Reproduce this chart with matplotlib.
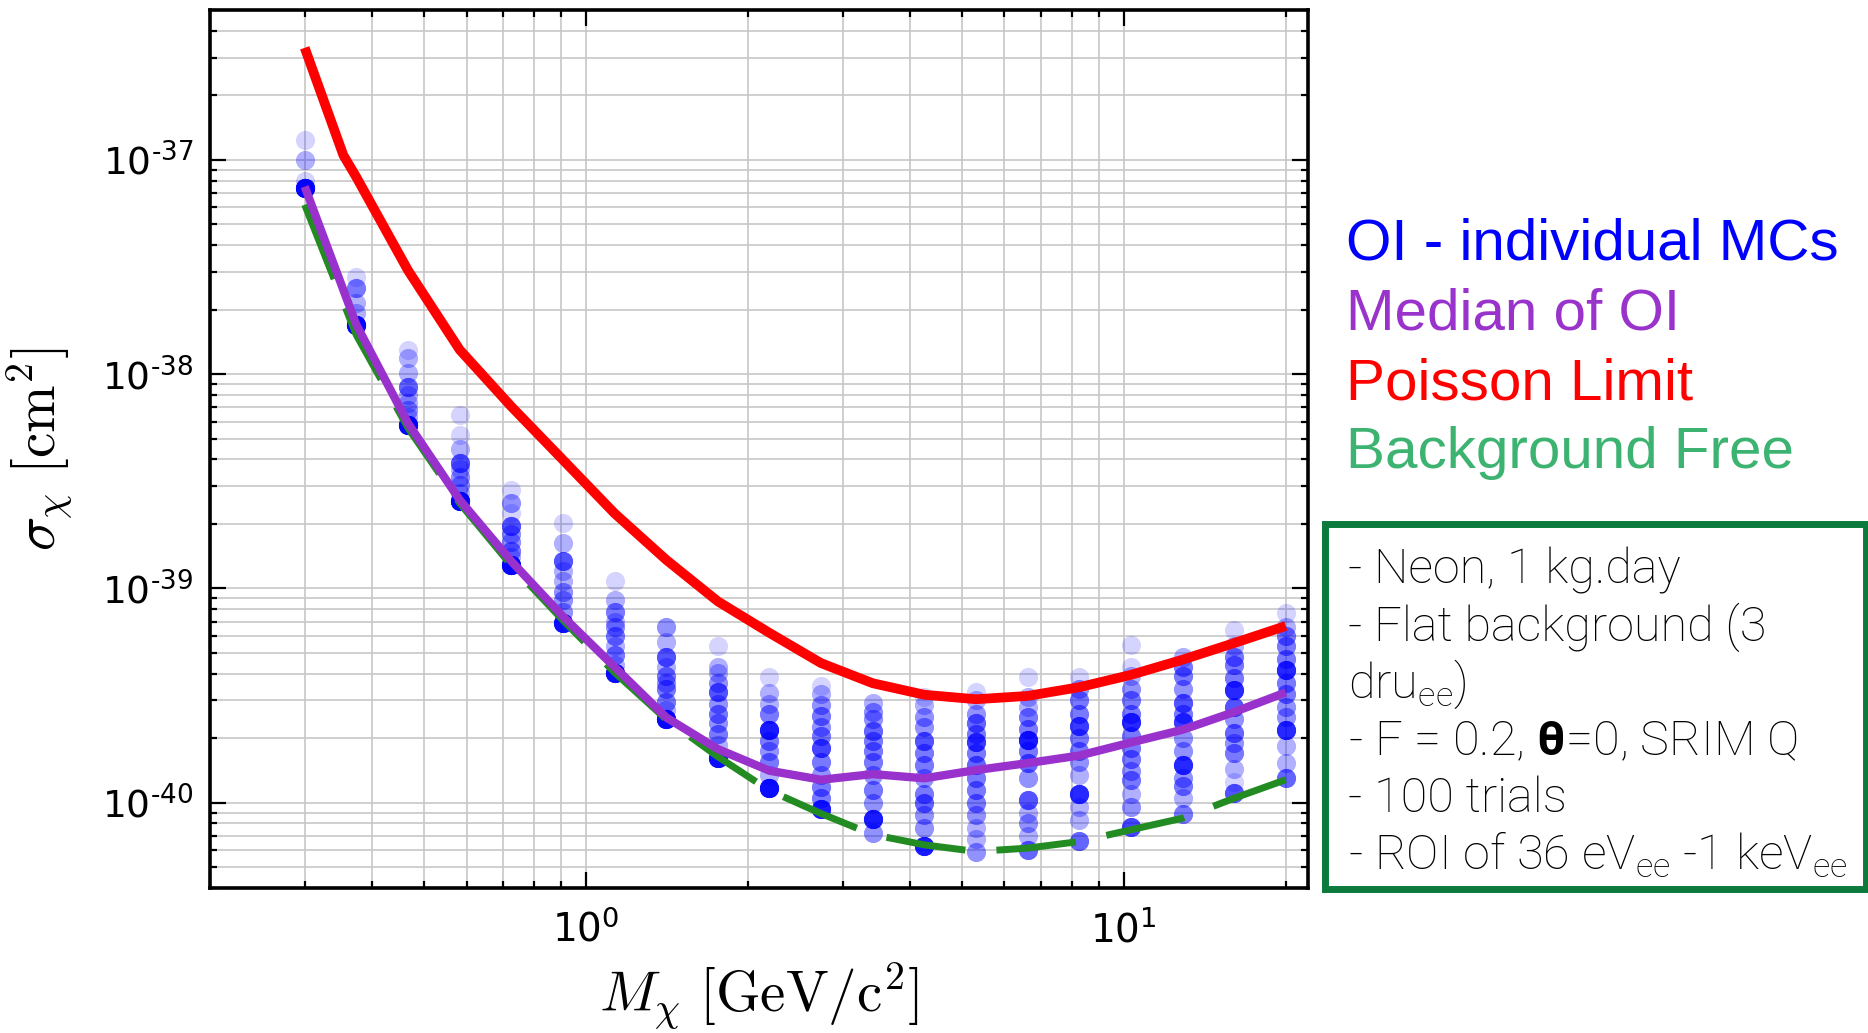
import matplotlib
matplotlib.use('Agg')
import matplotlib.pyplot as plt
import numpy as np
from matplotlib.patches import Rectangle

plt.rcParams['mathtext.fontset'] = 'cm'
plt.rcParams['axes.unicode_minus'] = False
plt.rcParams['axes.axisbelow'] = True
# custom math fonts only used inside the info box
plt.rcParams['mathtext.rm'] = 'Roboto:light'
plt.rcParams['mathtext.bf'] = 'Roboto:bold'

# WIMP masses [GeV/c^2]
mass = [0.3, 0.3742, 0.4668, 0.5823, 0.7264, 0.9061, 1.1303, 1.4099, 1.7587, 2.1938,
        2.7366, 3.4136, 4.2581, 5.3116, 6.6257, 8.2649, 10.310, 12.860, 16.042, 20.0]

# poisson limit has one extra point where its slope changes
poisson_mass = [0.3, 0.354, 0.3742, 0.4668, 0.5823, 0.7264, 0.9061, 1.1303, 1.4099, 1.7587,
                2.1938, 2.7366, 3.4136, 4.2581, 5.3116, 6.6257, 8.2649, 10.310, 12.860,
                16.042, 20.0]
poisson_limit = [3.33e-37, 1.05e-37, 8.3e-38, 3.05e-38, 1.30e-38, 7.06e-39, 3.98e-39, 2.24e-39,
                 1.36e-39, 8.7e-40, 6.2e-40, 4.48e-40, 3.61e-40, 3.19e-40, 3.04e-40, 3.15e-40,
                 3.46e-40, 3.95e-40, 4.65e-40, 5.56e-40, 6.68e-40]

median_oi = [7.5e-38, 1.7e-38, 5.9e-39, 2.59e-39, 1.34e-39, 7.4e-40, 4.3e-40, 2.5e-40,
             1.78e-40, 1.41e-40, 1.28e-40, 1.36e-40, 1.30e-40, 1.42e-40, 1.53e-40, 1.66e-40,
             1.91e-40, 2.19e-40, 2.65e-40, 3.27e-40]

bkg_free = [6.17e-38, 1.52e-38, 5.6e-39, 2.5e-39, 1.28e-39, 7.1e-40, 4.05e-40, 2.45e-40,
            1.64e-40, 1.14e-40, 8.9e-41, 7.1e-41, 6.36e-41, 5.92e-41, 6.14e-41, 6.59e-41,
            7.48e-41, 8.47e-41, 1.05e-40, 1.28e-40]

# individual OI trials per mass: distinct limit values and how many trials landed there
oi_values = [
    [1.24e-37, 1.0e-37, 8.0e-38, 7.4e-38],
    [2.85e-38, 2.52e-38, 2.14e-38, 1.93e-38, 1.70e-38],
    [1.30e-38, 1.19e-38, 1.01e-38, 8.75e-39, 8.0e-39, 7.3e-39, 6.8e-39, 6.3e-39, 5.8e-39],
    [6.45e-39, 5.2e-39, 4.45e-39, 3.85e-39, 3.6e-39, 3.3e-39, 3.05e-39, 2.8e-39, 2.55e-39],
    [2.88e-39, 2.5e-39, 2.25e-39, 1.95e-39, 1.8e-39, 1.65e-39, 1.5e-39, 1.4e-39, 1.29e-39],
    [2.02e-39, 1.63e-39, 1.34e-39, 1.2e-39, 1.08e-39, 9.6e-40, 8.8e-40, 7.8e-40, 6.9e-40],
    [1.08e-39, 8.85e-40, 7.8e-40, 7.0e-40, 6.6e-40, 6.0e-40, 5.4e-40, 4.9e-40, 4.4e-40, 4.05e-40],
    [6.6e-40, 5.6e-40, 4.8e-40, 4.3e-40, 3.9e-40, 3.6e-40, 3.4e-40, 2.95e-40, 2.7e-40, 2.45e-40],
    [5.36e-40, 4.32e-40, 4.03e-40, 3.6e-40, 3.3e-40, 2.9e-40, 2.6e-40, 2.35e-40, 2.1e-40,
     1.85e-40, 1.62e-40],
    [3.88e-40, 3.24e-40, 2.9e-40, 2.6e-40, 2.19e-40, 1.95e-40, 1.75e-40, 1.55e-40, 1.35e-40,
     1.17e-40],
    [3.5e-40, 3.2e-40, 2.85e-40, 2.55e-40, 2.25e-40, 2.05e-40, 1.8e-40, 1.55e-40, 1.35e-40,
     1.18e-40, 1.05e-40, 9.3e-41],
    [2.92e-40, 2.65e-40, 2.45e-40, 2.15e-40, 1.95e-40, 1.75e-40, 1.55e-40, 1.35e-40, 1.15e-40,
     1.0e-40, 8.4e-41, 7.2e-41],
    [3.1e-40, 2.85e-40, 2.5e-40, 2.25e-40, 1.95e-40, 1.7e-40, 1.5e-40, 1.3e-40, 1.1e-40,
     1.0e-40, 8.8e-41, 7.6e-41, 6.3e-41],
    [3.3e-40, 3.0e-40, 2.6e-40, 2.35e-40, 2.1e-40, 1.93e-40, 1.7e-40, 1.5e-40, 1.3e-40,
     1.15e-40, 1.0e-40, 8.8e-41, 7.6e-41, 6.8e-41, 5.9e-41],
    [3.88e-40, 3.1e-40, 2.8e-40, 2.5e-40, 2.2e-40, 1.97e-40, 1.75e-40, 1.53e-40, 1.3e-40,
     1.03e-40, 9.0e-41, 8.0e-41, 7.0e-41, 6.0e-41],
    [3.88e-40, 3.4e-40, 3.0e-40, 2.6e-40, 2.28e-40, 2.0e-40, 1.75e-40, 1.55e-40, 1.35e-40,
     1.1e-40, 9.5e-41, 8.3e-41, 6.6e-41],
    [5.46e-40, 4.3e-40, 3.9e-40, 3.4e-40, 3.0e-40, 2.6e-40, 2.39e-40, 2.05e-40, 1.8e-40,
     1.6e-40, 1.4e-40, 1.28e-40, 1.1e-40, 9.5e-41, 7.7e-41],
    [4.81e-40, 4.3e-40, 3.9e-40, 3.4e-40, 2.92e-40, 2.6e-40, 2.39e-40, 2.0e-40, 1.75e-40,
     1.5e-40, 1.3e-40, 1.2e-40, 1.05e-40, 8.9e-41],
    [6.41e-40, 5.4e-40, 4.8e-40, 4.4e-40, 3.8e-40, 3.37e-40, 2.81e-40, 2.45e-40, 2.12e-40,
     1.9e-40, 1.71e-40, 1.43e-40, 1.25e-40, 1.11e-40],
    [7.67e-40, 6.6e-40, 6.0e-40, 5.4e-40, 4.7e-40, 4.17e-40, 3.6e-40, 3.2e-40, 2.8e-40,
     2.5e-40, 2.19e-40, 1.83e-40, 1.53e-40, 1.3e-40],
]
oi_counts = [
    [1, 2, 1, 20],
    [1, 4, 2, 2, 20],
    [1, 2, 2, 5, 2, 2, 3, 2, 20],
    [1, 1, 2, 6, 2, 3, 3, 2, 20],
    [1, 3, 1, 6, 3, 3, 4, 2, 20],
    [1, 2, 6, 2, 2, 3, 3, 3, 15],
    [1, 2, 4, 2, 3, 4, 2, 4, 2, 16],
    [3, 2, 6, 2, 4, 3, 4, 4, 2, 18],
    [1, 2, 2, 3, 6, 3, 4, 3, 4, 2, 16],
    [1, 2, 2, 4, 12, 4, 3, 4, 2, 16],
    [1, 2, 3, 4, 3, 4, 7, 4, 3, 4, 4, 12],
    [2, 3, 3, 5, 4, 4, 4, 3, 4, 3, 12, 3],
    [1, 2, 3, 3, 6, 4, 4, 3, 4, 5, 3, 3, 12],
    [1, 2, 3, 5, 4, 8, 4, 5, 4, 4, 4, 3, 2, 2, 3],
    [1, 2, 2, 4, 4, 12, 4, 5, 3, 6, 2, 3, 2, 5],
    [1, 3, 4, 4, 8, 4, 4, 3, 2, 10, 2, 2, 5],
    [1, 1, 2, 3, 4, 4, 10, 4, 4, 4, 3, 4, 2, 3, 7],
    [2, 4, 4, 3, 6, 4, 8, 3, 3, 10, 3, 4, 2, 4],
    [1, 2, 4, 4, 4, 10, 6, 3, 5, 3, 4, 2, 1, 6],
    [1, 2, 4, 4, 4, 10, 4, 4, 3, 3, 10, 2, 2, 5],
]

ytick_vals = [1e-40, 1e-39, 1e-38, 1e-37]
ytick_labels = [r'$10^{‐40}$', r'$10^{‐39}$', r'$10^{‐38}$', r'$10^{‐37}$']

legend_labels = ['OI - individual MCs', 'Median of OI', 'Poisson Limit', 'Background Free']
legend_colors = ['#0000ff', '#9933cc', '#ff0000', '#3cb371']

info_lines = ['- Neon, 1 kg.day',
              '- Flat background (3',
              r'dru$_{\mathrm{ee}}$)',
              r'- F = 0.2, $\mathbf{\theta}$=0, SRIM Q',
              '- 100 trials',
              r'- ROI of 36 eV$_{\mathrm{ee}}$ -1 keV$_{\mathrm{ee}}$']

W, H = 1868, 1033
fig = plt.figure(figsize=(W / 100, H / 100), dpi=100)
ax = fig.add_axes([210 / W, 1 - 888 / H, 1098 / W, 878 / H])

# scatter of the individual MC limits, repeated values stack up to darker blue
for m, vals, cnts in zip(mass, oi_values, oi_counts):
    ys = np.repeat(vals, cnts)
    ax.scatter(np.full(len(ys), m), ys, s=190, color='blue', alpha=0.17, lw=0, zorder=2)

ax.plot(mass, bkg_free, color='forestgreen', lw=5, linestyle=(0, (11.5, 4.5)), zorder=3)
ax.plot(mass, median_oi, color='darkorchid', lw=6, solid_capstyle='butt', zorder=4)
ax.plot(poisson_mass, poisson_limit, color='red', lw=7, solid_capstyle='butt', zorder=5)

ax.set_xscale('log')
ax.set_yscale('log')
ax.set_xlim(0.2, 22)
ax.set_ylim(4e-41, 5e-37)
ax.set_yticks(ytick_vals, labels=ytick_labels, math_fontfamily='dejavusans', fontsize=27)

ax.grid(True, which='both', color='0.78', lw=1.2)
ax.tick_params(which='both', direction='in', top=True, right=True, width=1.6)
ax.tick_params(which='major', length=11.5)
ax.tick_params(which='minor', length=5)
ax.tick_params(axis='x', labelsize=28, pad=16)
ax.tick_params(axis='y', pad=12)
for sp in ax.spines.values():
    sp.set_linewidth(2.6)

ax.set_xlabel(r'$M_\chi\ [\mathrm{GeV/c^2}]$', fontsize=41)
ax.set_ylabel(r'$\sigma_\chi\ [\mathrm{cm}^2]$', fontsize=41)
ax.xaxis.set_label_coords(0.5, -0.082)
ax.yaxis.set_label_coords(-0.123, 0.5)

# coloured legend text on the right
for i, (lab, col) in enumerate(zip(legend_labels, legend_colors)):
    fig.text(1346 / W, 1 - (260 + 69.5 * i) / H, lab, color=col, fontsize=42,
             family='Liberation Sans', va='baseline')

# info box
fig.add_artist(Rectangle((1325 / W, 1 - 889 / H), 541 / W, 365 / H, fill=False,
                         ec='#0c7a3c', lw=5, transform=fig.transFigure, clip_on=False))
for i, line in enumerate(info_lines):
    fig.text(1348 / W, 1 - (583.3 + 57.3 * i) / H, line, fontsize=35, family='Roboto',
             weight='light', va='baseline', math_fontfamily='custom')

fig.savefig('out.png', dpi=100)
